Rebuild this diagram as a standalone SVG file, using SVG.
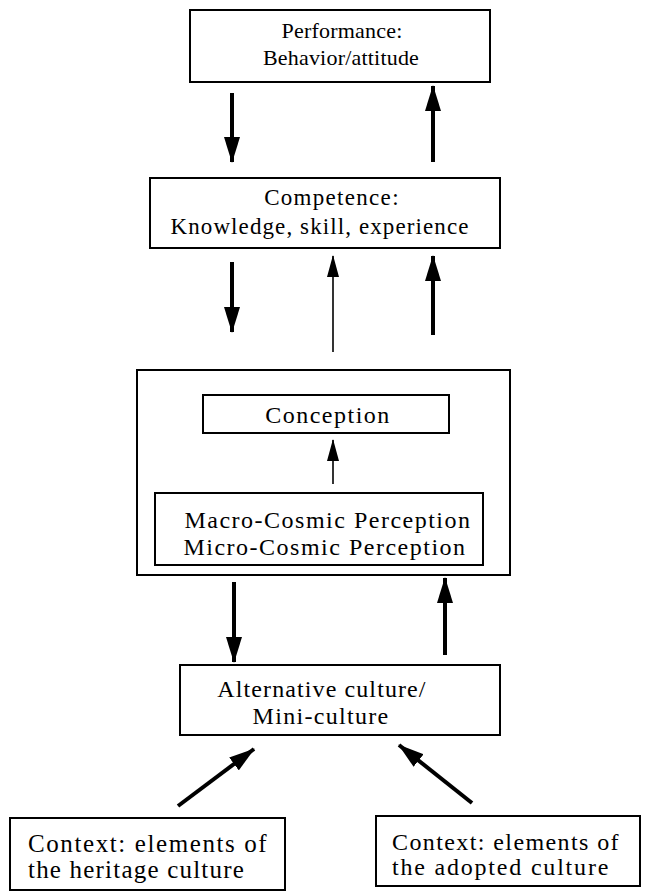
<svg xmlns="http://www.w3.org/2000/svg" width="649" height="894" viewBox="0 0 649 894">
  <style>
    .box { fill: #fff; stroke: #000; stroke-width: 2; }
    .lbl { font-family: "Liberation Serif", "DejaVu Serif", serif; fill: #000; text-anchor: middle; }
    .left { text-anchor: start; }
    .thick { stroke: #000; stroke-width: 4; fill: none; }
    .thin { stroke: #000; stroke-width: 1.6; fill: none; }
  </style>
  <defs>
    <!-- long filled heads; viewBox matches marker size so nothing is letterboxed -->
    <marker id="head" viewBox="0 0 26 16" refX="25" refY="8" markerUnits="userSpaceOnUse" markerWidth="26" markerHeight="16" orient="auto">
      <path d="M0,0 L26,8 L0,16 Z" fill="#000"/>
    </marker>
    <marker id="head-sm" viewBox="0 0 22 12" refX="21" refY="6" markerUnits="userSpaceOnUse" markerWidth="22" markerHeight="12" orient="auto">
      <path d="M0,0 L22,6 L0,12 Z" fill="#000"/>
    </marker>
  </defs>
  <rect width="649" height="894" fill="#fff"/>

  <g id="performance">
    <rect class="box" x="190" y="10" width="300" height="72"/>
    <text class="lbl" x="342" y="38" font-size="22" letter-spacing="0.2">Performance:</text>
    <text class="lbl" x="341" y="65" font-size="22" letter-spacing="0.2">Behavior/attitude</text>
  </g>

  <g id="competence">
    <rect class="box" x="150" y="178" width="350" height="70"/>
    <text class="lbl" x="332" y="205" font-size="23" letter-spacing="1.3">Competence:</text>
    <text class="lbl" x="320" y="234" font-size="23" letter-spacing="1.1">Knowledge, skill, experience</text>
  </g>

  <g id="cognition">
    <rect class="box" x="137" y="370" width="373" height="205"/>
  </g>

  <g id="conception">
    <rect class="box" x="203" y="395" width="246" height="38"/>
    <text class="lbl" x="328" y="423" font-size="24" letter-spacing="1.5">Conception</text>
  </g>

  <g id="perception">
    <rect class="box" x="155" y="493" width="328" height="72"/>
    <text class="lbl" x="328" y="528" font-size="24" letter-spacing="1.5">Macro-Cosmic Perception</text>
    <text class="lbl" x="325" y="555" font-size="24" letter-spacing="1.5">Micro-Cosmic Perception</text>
  </g>

  <g id="alternative">
    <rect class="box" x="180" y="665" width="320" height="70"/>
    <text class="lbl" x="322" y="697" font-size="24" letter-spacing="1.1">Alternative culture/</text>
    <text class="lbl" x="321" y="724" font-size="24" letter-spacing="1.3">Mini-culture</text>
  </g>

  <g id="heritage">
    <rect class="box" x="10" y="818" width="275" height="72"/>
    <text class="lbl left" x="28" y="852" font-size="25" letter-spacing="1.6">Context: elements of</text>
    <text class="lbl left" x="28" y="878" font-size="25" letter-spacing="1.2">the heritage culture</text>
  </g>

  <g id="adopted">
    <rect class="box" x="376" y="816" width="264" height="70"/>
    <text class="lbl left" x="392" y="850" font-size="24" letter-spacing="1.4">Context: elements of</text>
    <text class="lbl left" x="392" y="875" font-size="24" letter-spacing="1.8">the adopted culture</text>
  </g>

  <g id="connectors">
    <line class="thick" x1="232" y1="93" x2="232" y2="162" marker-end="url(#head)"/>
    <line class="thick" x1="433" y1="162" x2="433" y2="86" marker-end="url(#head)"/>
    <line class="thick" x1="232" y1="262" x2="232" y2="332" marker-end="url(#head)"/>
    <line class="thin" x1="333" y1="352" x2="333" y2="256" marker-end="url(#head-sm)"/>
    <line class="thick" x1="433" y1="335" x2="433" y2="256" marker-end="url(#head)"/>
    <line class="thin" x1="333" y1="484" x2="333" y2="440" marker-end="url(#head-sm)"/>
    <line class="thick" x1="234" y1="582" x2="234" y2="662" marker-end="url(#head)"/>
    <line class="thick" x1="445" y1="655" x2="445" y2="578" marker-end="url(#head)"/>
    <line class="thick" x1="178" y1="806" x2="254" y2="749" marker-end="url(#head)"/>
    <line class="thick" x1="472" y1="803" x2="399" y2="745" marker-end="url(#head)"/>
  </g>
</svg>
